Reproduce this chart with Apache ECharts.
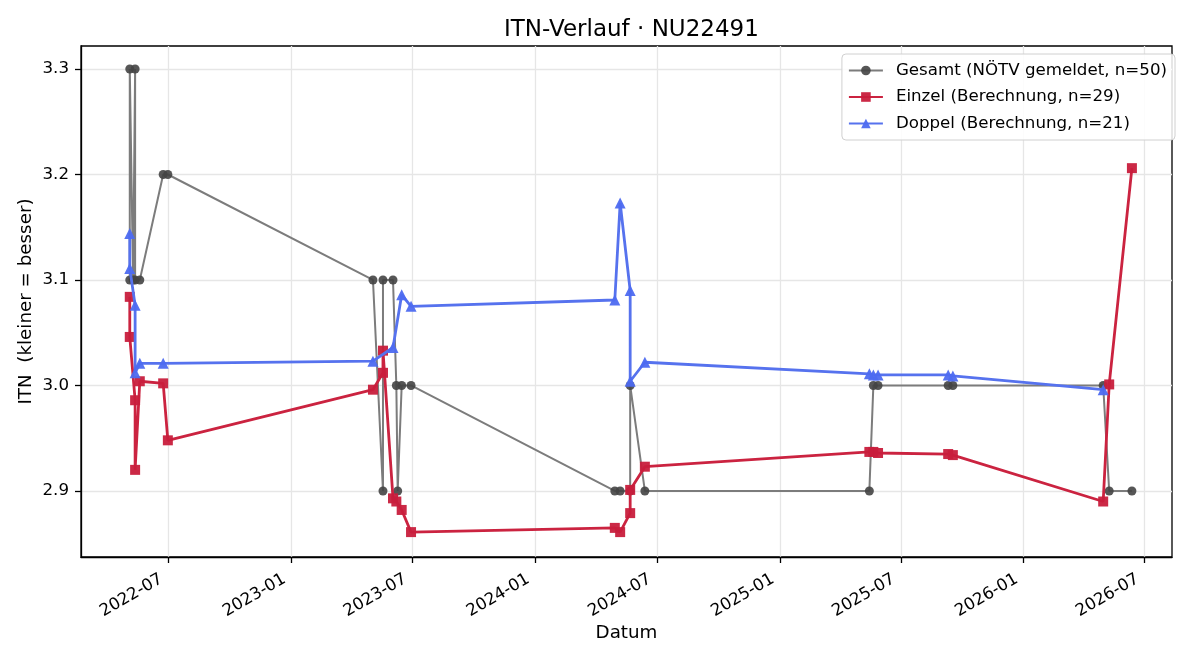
<!DOCTYPE html>
<html>
<head>
<meta charset="utf-8">
<script src="https://cdn.jsdelivr.net/npm/echarts@6/dist/echarts.min.js"></script>
<style>
  html, body { margin: 0; padding: 0; background: #fff; }
  #itnChart { width: 1200px; height: 660px; }
</style>
</head>
<body>
<div id="itnChart"></div>
<script>
// --- data ------------------------------------------------------------------

var gesamtDates = ['2022-05-04', '2022-05-04', '2022-05-09', '2022-05-12', '2022-05-12', '2022-05-19', '2022-06-23', '2022-06-30',
	'2023-05-03', '2023-05-18', '2023-05-18', '2023-06-02', '2023-06-07', '2023-06-09', '2023-06-15', '2023-06-29',
	'2024-04-29', '2024-05-07', '2024-05-22', '2024-05-22', '2024-06-13',
	'2025-05-15', '2025-05-21', '2025-05-28', '2025-09-10', '2025-09-17',
	'2026-04-30', '2026-05-09', '2026-06-12'];
var gesamtValues = [3.1, 3.3, 3.1, 3.3, 3.1, 3.1, 3.2, 3.2,
	3.1, 2.9, 3.1, 3.1, 3.0, 2.9, 3.0, 3.0,
	2.9, 2.9, 2.9, 3.0, 2.9,
	2.9, 3.0, 3.0, 3.0, 3.0,
	3.0, 2.9, 2.9];

var einzelDates = ['2022-05-04', '2022-05-04', '2022-05-12', '2022-05-12', '2022-05-19', '2022-06-23', '2022-06-30',
	'2023-05-03', '2023-05-18', '2023-05-18', '2023-06-02', '2023-06-07', '2023-06-15', '2023-06-29',
	'2024-04-29', '2024-05-07', '2024-05-22', '2024-05-22', '2024-06-13',
	'2025-05-15', '2025-05-21', '2025-05-28', '2025-09-10', '2025-09-17',
	'2026-04-30', '2026-05-09', '2026-06-12'];
var einzelValues = [3.084, 3.046, 2.986, 2.920, 3.004, 3.002, 2.948,
	2.996, 3.012, 3.033, 2.893, 2.890, 2.882, 2.861,
	2.865, 2.861, 2.879, 2.901, 2.923,
	2.937, 2.937, 2.936, 2.935, 2.934,
	2.890, 3.001, 3.206];

var doppelDates = ['2022-05-04', '2022-05-04', '2022-05-12', '2022-05-12', '2022-05-19', '2022-06-23',
	'2023-05-03', '2023-06-02', '2023-06-15', '2023-06-29',
	'2024-04-29', '2024-05-07', '2024-05-22', '2024-05-22', '2024-06-13',
	'2025-05-15', '2025-05-21', '2025-05-28', '2025-09-10', '2025-09-17',
	'2026-04-30'];
var doppelValues = [3.144, 3.111, 3.076, 3.012, 3.021, 3.021,
	3.023, 3.036, 3.086, 3.075,
	3.081, 3.173, 3.090, 3.004, 3.022,
	3.011, 3.010, 3.010, 3.010, 3.009,
	2.996];

var xTickLabels = ['2022-07', '2023-01', '2023-07', '2024-01', '2024-07', '2025-01', '2025-07', '2026-01', '2026-07'];
var yTickValues = [2.9, 3.0, 3.1, 3.2, 3.3];

var seriesNames = ['Gesamt (NÖTV gemeldet, n=50)', 'Einzel (Berechnung, n=29)', 'Doppel (Berechnung, n=21)'];

// ---------------------------------------------------------------------------

// dates are kept as UTC milliseconds on a plain value axis
function toTime(s) {
	var p = s.split('-');
	return Date.UTC(+p[0], (+p[1] || 1) - 1, +p[2] || 1);
}

function pairs(dates, values) {
	var out = [];
	for (var i = 0; i < dates.length; i++) {
		out.push([toTime(dates[i]), values[i]]);
	}
	return out;
}

function pad(n) { return n < 10 ? '0' + n : '' + n; }

var xTicks = xTickLabels.map(toTime);
var font = 'DejaVu Sans';

var chart = echarts.init(document.getElementById('itnChart'));

var option = {
	animation: false,
	backgroundColor: '#fff',
	textStyle: { fontFamily: font },
	title: {
		// centred over the plot area, not the page
		text: 'ITN-Verlauf · NU22491',
		left: 499,
		top: 14,
		textStyle: { fontFamily: font, fontSize: 23, fontWeight: 'normal', color: '#000' }
	},
	legend: {
		orient: 'vertical',
		right: 25,
		top: 54,
		padding: [8, 8, 8, 6],
		itemWidth: 34,
		itemHeight: 12,
		itemGap: 9.5,
		backgroundColor: 'rgba(255,255,255,0.85)',
		borderColor: '#d0d0d0',
		borderWidth: 1,
		borderRadius: 4,
		textStyle: { fontFamily: font, fontSize: 16.67, color: '#000', padding: [0, 0, 0, 8] },
		data: seriesNames
	},
	grid: {
		left: 81,
		right: 28,
		top: 46,
		bottom: 103,
		show: true,
		borderColor: '#000',
		borderWidth: 1.3,
		backgroundColor: 'transparent'
	},
	xAxis: {
		type: 'value',
		min: toTime('2022-02-20'),
		max: toTime('2026-08-11'),
		name: 'Datum',
		nameLocation: 'middle',
		nameGap: 67,
		nameMoveOverlap: false,
		nameTextStyle: { fontFamily: font, fontSize: 18.3, color: '#000' },
		axisLine: { show: true, lineStyle: { color: '#000', width: 1.3 } },
		axisTick: { show: true, length: 6, customValues: xTicks, lineStyle: { color: '#000', width: 1.3 } },
		axisLabel: {
			customValues: xTicks,
			rotate: 30,
			margin: 17,
			padding: [0, 8, 0, 0],
			fontFamily: font,
			fontSize: 16.67,
			color: '#000',
			formatter: function (v) {
				var d = new Date(v);
				return d.getUTCFullYear() + '-' + pad(d.getUTCMonth() + 1);
			}
		},
		splitLine: { show: true, lineStyle: { color: '#e6e6e6', width: 1.3 } }
	},
	yAxis: {
		type: 'value',
		min: 2.8374,
		max: 3.3218,
		name: 'ITN  (kleiner = besser)',
		nameLocation: 'middle',
		nameGap: 46,
		nameMoveOverlap: false,
		nameTextStyle: { fontFamily: font, fontSize: 18.3, color: '#000' },
		axisLine: { show: true, lineStyle: { color: '#000', width: 1.3 } },
		axisTick: { show: true, length: 6, customValues: yTickValues, lineStyle: { color: '#000', width: 1.3 } },
		axisLabel: {
			customValues: yTickValues,
			margin: 12,
			fontFamily: font,
			fontSize: 16.67,
			color: '#000',
			formatter: function (v) { return v.toFixed(1); }
		},
		splitLine: { show: true, lineStyle: { color: '#e6e6e6', width: 1.3 } }
	},
	series: [
		{
			name: seriesNames[0],
			type: 'line',
			data: pairs(gesamtDates, gesamtValues),
			symbol: 'circle',
			symbolSize: 9,
			lineStyle: { color: '#7c7c7c', width: 2 },
			itemStyle: { color: '#444444', opacity: 0.9 },
			z: 2
		},
		{
			name: seriesNames[1],
			type: 'line',
			data: pairs(einzelDates, einzelValues),
			symbol: 'rect',
			symbolSize: 10,
			lineStyle: { color: '#cb2340', width: 2.8 },
			itemStyle: { color: '#c81e3c', opacity: 0.95 },
			z: 3
		},
		{
			name: seriesNames[2],
			type: 'line',
			data: pairs(doppelDates, doppelValues),
			symbol: 'triangle',
			symbolSize: 11,
			lineStyle: { color: '#5672ee', width: 2.8 },
			itemStyle: { color: '#4d6af0', opacity: 0.95 },
			z: 4
		}
	]
};

chart.setOption(option);
</script>
</body>
</html>
